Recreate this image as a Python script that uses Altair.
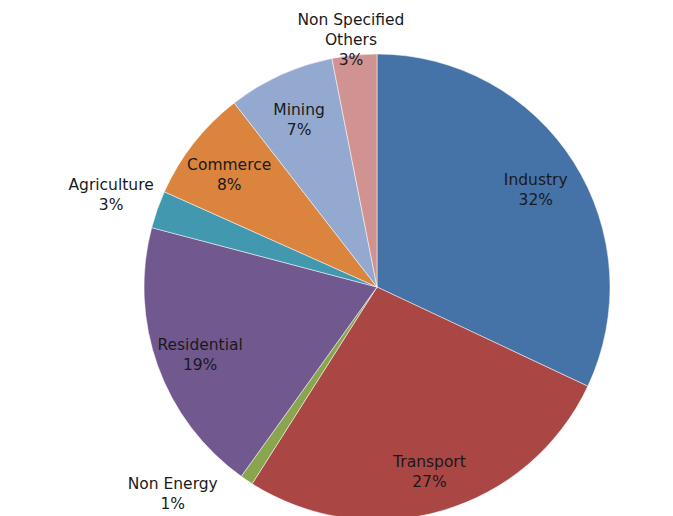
import altair as alt
import pandas as pd

categories = ["Industry", "Transport", "Non Energy", "Residential",
              "Agriculture", "Commerce", "Mining", "Non Specified Others"]
label_names = ["Industry", "Transport", "Non Energy", "Residential",
               "Agriculture", "Commerce", "Mining", "Non Specified\nOthers"]
shares = [32.0, 27.0, 0.9, 19.2, 2.6, 7.8, 7.4, 3.1]
pct_labels = ["32%", "27%", "1%", "19%", "3%", "8%", "7%", "3%"]
colors = ["#4572A7", "#AA4643", "#89A54E", "#71588F",
          "#4198AF", "#DB843D", "#93A9CF", "#D19392"]

df = pd.DataFrame({
    "category": categories,
    "name": label_names,
    "share": shares,
    "pct": pct_labels,
    "order": list(range(len(categories))),
})

CX, CY, R = 377, 287, 233

base = (
    alt.Chart(df)
    .transform_joinaggregate(total="sum(share)")
    .transform_window(cum="sum(share)", sort=[alt.SortField("order")], frame=[None, 0])
    .transform_calculate(
        start="(datum.cum - datum.share) / datum.total",
        end="datum.cum / datum.total",
        mid="(datum.cum - datum.share / 2) / datum.total",
        label="datum.name + '\\n' + datum.pct",
    )
)

theta_scale = alt.Scale(domain=[0, 1], range=[0, 6.283185307179586])

arcs = base.mark_arc(radius=R, x=CX, y=CY, stroke="white", strokeWidth=0.5).encode(
    theta=alt.Theta("start:Q", scale=theta_scale),
    theta2="end:Q",
    color=alt.Color("category:N", scale=alt.Scale(domain=categories, range=colors), legend=None),
)

text_style = dict(x=CX, y=CY, font="DejaVu Sans", fontSize=15.5, lineHeight=20,
                  lineBreak="\n", color="#1a1a1a", align="center", baseline="middle")

outside = ["Agriculture", "Non Specified Others", "Non Energy"]


def label_layer(filter_expr, **kw):
    return base.transform_filter(filter_expr).mark_text(**text_style, **kw).encode(
        theta=alt.Theta("mid:Q", scale=theta_scale),
        text="label:N",
    )


inside = label_layer("indexof(%s, datum.category) < 0" % str(outside), radius=188, dy=-6)
agri = label_layer("datum.category == 'Agriculture'", radius=282, dy=-8)
nso = label_layer("datum.category == 'Non Specified Others'", radius=268)
nonen = label_layer("datum.category == 'Non Energy'", radius=240, dx=-70, dy=-2)

chart = (
    alt.layer(arcs, inside, agri, nso, nonen)
    .properties(width=673, height=516, autosize=alt.AutoSizeParams(type="none"), padding=0)
    .configure_view(stroke=None)
    .configure(background="white")
)

chart.save("out.html", embed_options={"renderer": "svg", "actions": False})
